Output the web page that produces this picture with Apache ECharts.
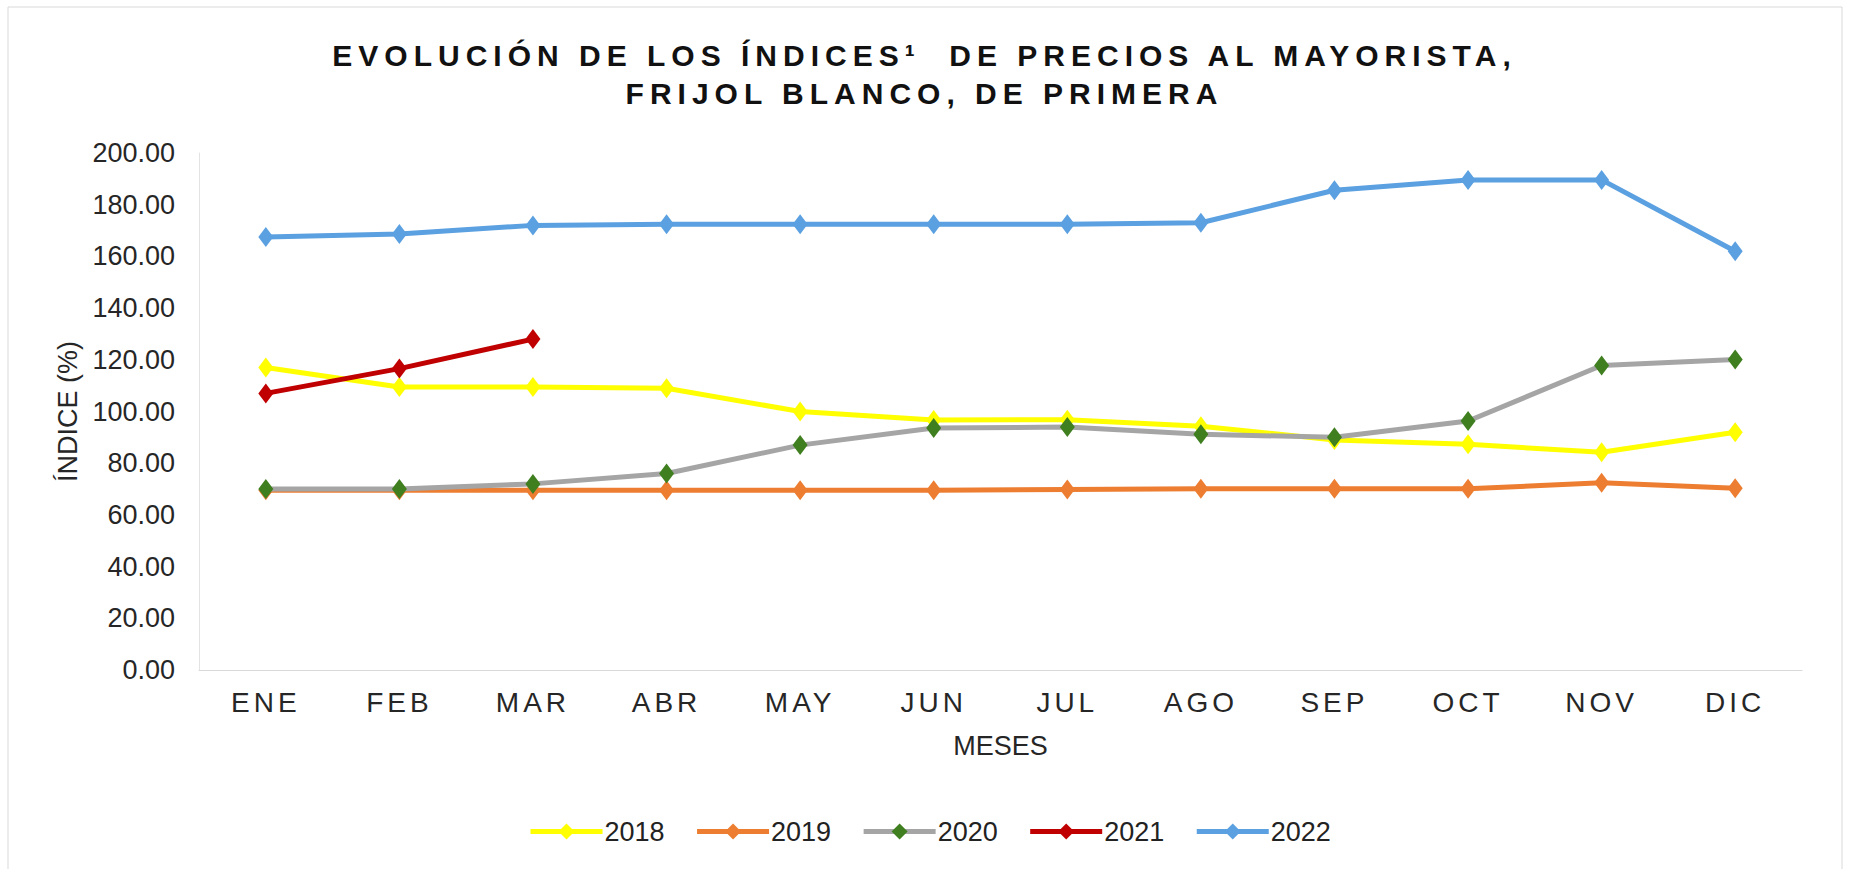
<!DOCTYPE html>
<html>
<head>
<meta charset="utf-8">
<script src="https://cdn.jsdelivr.net/npm/echarts@6/dist/echarts.min.js"></script>
<style>
  html, body { margin: 0; padding: 0; background: #ffffff; }
  #chart { width: 1849px; height: 869px; }
  #chart svg text[style*="30px"] { letter-spacing: 6px; }
  #chart svg text[style*="28px"] { letter-spacing: 4px; }
</style>
</head>
<body>
<div id="chart"></div>
<script>
const categories = ['ENE', 'FEB', 'MAR', 'ABR', 'MAY', 'JUN', 'JUL', 'AGO', 'SEP', 'OCT', 'NOV', 'DIC'];
const seriesNames = ['2018', '2019', '2020', '2021', '2022'];
const values2018 = [117.0, 109.5, 109.5, 109.0, 100.0, 96.7, 96.8, 94.3, 89.0, 87.3, 84.2, 92.0];
const values2019 = [69.5, 69.5, 69.5, 69.5, 69.5, 69.5, 69.8, 70.1, 70.1, 70.1, 72.4, 70.3];
const values2020 = [70.0, 70.0, 72.0, 76.0, 87.0, 93.6, 94.0, 91.2, 90.0, 96.3, 117.8, 120.1];
const values2021 = [107.0, 116.6, 128.0];
const values2022 = [167.5, 168.7, 172.0, 172.4, 172.4, 172.4, 172.4, 173.0, 185.6, 189.6, 189.6, 162.0];
const yTicks = { min: 0, max: 200, interval: 20 };

const lineColors = ['#FFFF00', '#ED7D31', '#A5A5A5', '#C00000', '#5BA0E0'];
const markerColors = ['#FFFF00', '#ED7D31', '#3F7F1F', '#C00000', '#5BA0E0'];
const allValues = [values2018, values2019, values2020, values2021, values2022];

const chart = echarts.init(document.getElementById('chart'), null, { renderer: 'svg' });

const series = seriesNames.map((name, i) => ({
  name: name,
  type: 'line',
  data: allValues[i],
  symbol: 'diamond',
  symbolSize: [15, 20],
  showSymbol: true,
  lineStyle: { color: lineColors[i], width: 5 },
  itemStyle: { color: markerColors[i], borderWidth: 0 },
  emphasis: { disabled: true },
  animation: false,
  z: 2 + i
}));

chart.setOption({
  animation: false,
  backgroundColor: '#ffffff',
  title: {
    text: 'EVOLUCIÓN DE LOS ÍNDICES¹  DE PRECIOS AL MAYORISTA,\nFRIJOL BLANCO, DE PRIMERA',
    left: 'center',
    top: 31,
    textStyle: {
      fontFamily: 'Liberation Sans, Arial, sans-serif',
      fontWeight: 'bold',
      fontSize: 30,
      lineHeight: 38,
      color: '#111111'
    }
  },
  graphic: [{
    type: 'rect',
    shape: { x: 8, y: 7, width: 1834, height: 880 },
    style: { fill: 'none', stroke: '#d9d9d9', lineWidth: 1 },
    silent: true,
    z: -10
  }],
  legend: {
    data: seriesNames,
    left: 523,
    top: 813,
    itemWidth: 72,
    itemHeight: 20,
    itemGap: 30,
    lineStyle: { width: 5 },
    textStyle: {
      fontFamily: 'Liberation Sans, Arial, sans-serif',
      fontSize: 27,
      color: '#222222',
      padding: [0, 0, 0, -3]
    }
  },
  grid: {
    left: 199,
    right: 47,
    top: 153,
    bottom: 199,
    containLabel: false,
    outerBoundsMode: 'none'
  },
  xAxis: {
    type: 'category',
    data: categories,
    boundaryGap: true,
    name: 'MESES',
    nameLocation: 'middle',
    nameGap: 62,
    nameTextStyle: {
      fontFamily: 'Liberation Sans, Arial, sans-serif',
      fontSize: 27,
      color: '#262626'
    },
    axisLine: { show: true, lineStyle: { color: '#d9d9d9', width: 1 } },
    axisTick: { show: false },
    axisLabel: {
      margin: 18,
      fontFamily: 'Liberation Sans, Arial, sans-serif',
      fontSize: 28,
      color: '#262626'
    },
    splitLine: { show: false }
  },
  yAxis: {
    type: 'value',
    min: yTicks.min,
    max: yTicks.max,
    interval: yTicks.interval,
    name: 'ÍNDICE (%)',
    nameLocation: 'middle',
    nameGap: 118,
    nameRotate: 90,
    nameTextStyle: {
      fontFamily: 'Liberation Sans, Arial, sans-serif',
      fontSize: 27,
      color: '#262626'
    },
    axisLine: { show: true, lineStyle: { color: '#e3e3e3', width: 1 } },
    axisTick: { show: false },
    axisLabel: {
      margin: 24,
      formatter: (v) => v.toFixed(2),
      fontFamily: 'Liberation Sans, Arial, sans-serif',
      fontSize: 27,
      color: '#262626'
    },
    splitLine: { show: false }
  },
  series: series
});
</script>
</body>
</html>
